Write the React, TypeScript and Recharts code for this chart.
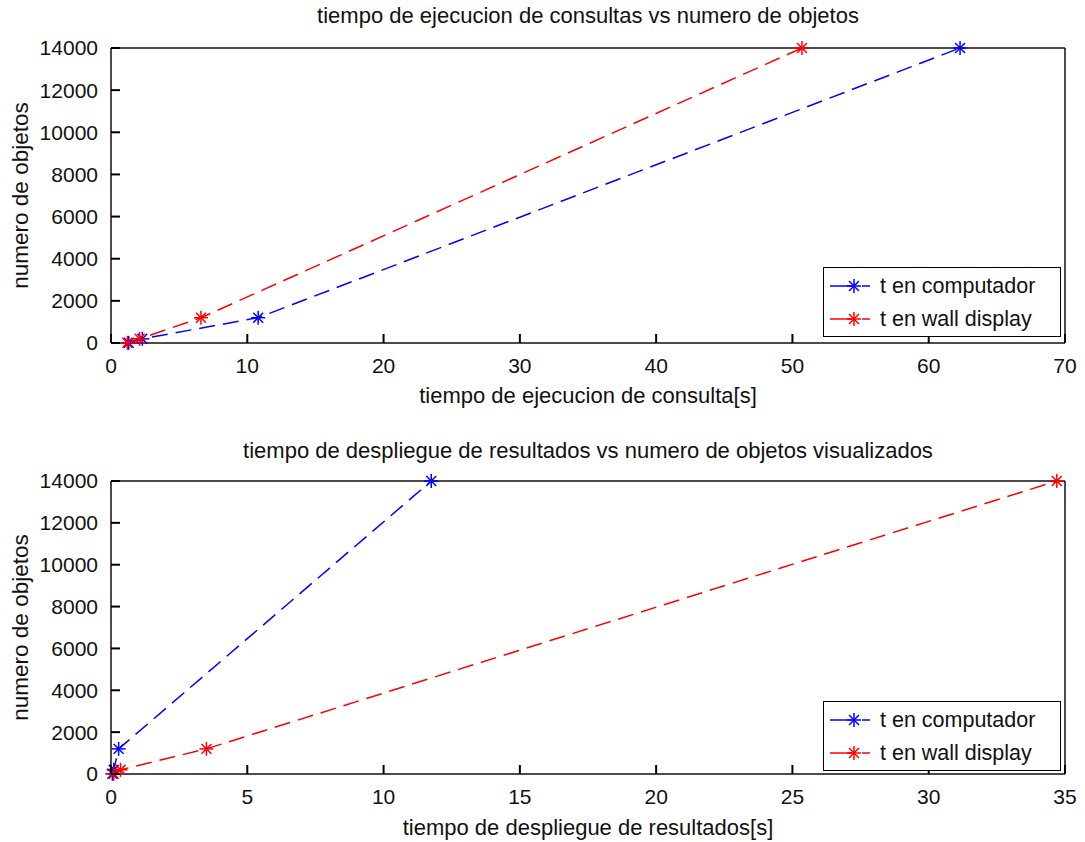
import { LineChart, Line, XAxis, YAxis } from 'recharts';

// numero de objetos (same counts in both experiments)
const objetos = [10, 200, 1200, 14000];

// tiempo de ejecucion de consulta [s]
const ejecucionComputador = [1.3, 2.3, 10.8, 62.3];
const ejecucionWall = [1.2, 2.1, 6.6, 50.7];

// tiempo de despliegue de resultados [s]
const despliegueComputador = [0.05, 0.1, 0.28, 11.75];
const despliegueWall = [0.1, 0.35, 3.5, 34.7];

const yTicks = [0, 2000, 4000, 6000, 8000, 10000, 12000, 14000];
const xTicksEjecucion = [0, 10, 20, 30, 40, 50, 60, 70];
const xTicksDespliegue = [0, 5, 10, 15, 20, 25, 30, 35];

const BLUE = '#0000ff';
const RED = '#ff0000';
const INK = '#111';
const TICK_INK = '#000';
const FONT = '"Liberation Sans", Arial, sans-serif';
const TICK_LEN = 9;
const X_GAP = 15;
const Y_GAP = 13;

const toPoints = (times: number[]) => times.map((t, i) => ({ t, n: objetos[i] }));

const Star = (props: any) => {
  const { cx, cy, stroke } = props;
  if (cx == null || cy == null) return null;
  const r = 7;
  const d = r * 0.7071;
  return (
    <g stroke={stroke} strokeWidth={1.5}>
      <line x1={cx - r} y1={cy} x2={cx + r} y2={cy} />
      <line x1={cx} y1={cy - r} x2={cx} y2={cy + r} />
      <line x1={cx - d} y1={cy - d} x2={cx + d} y2={cy + d} />
      <line x1={cx - d} y1={cy + d} x2={cx + d} y2={cy - d} />
    </g>
  );
};

const renderStar = (props: any) => <Star key={`s-${props.index}`} {...props} />;

// tick renderers: label plus a matlab-style inward tick mark
const BottomTick = ({ x, y, payload }: any) => (
  <g>
    <line x1={x} y1={y - X_GAP} x2={x} y2={y - X_GAP - TICK_LEN} stroke={TICK_INK} strokeWidth={2} />
    <text x={x} y={y} dy="0.71em" textAnchor="middle" fill={INK} fontSize={21} fontFamily={FONT}>
      {payload.value}
    </text>
  </g>
);

const LeftTick = ({ x, y, payload }: any) => (
  <g>
    <line x1={x + Y_GAP} y1={y} x2={x + Y_GAP + TICK_LEN} y2={y} stroke={TICK_INK} strokeWidth={2} />
    <text x={x} y={y} dy="0.355em" textAnchor="end" fill={INK} fontSize={21} fontFamily={FONT}>
      {payload.value}
    </text>
  </g>
);

const TopTick = ({ x, y }: any) => <line x1={x} y1={y} x2={x} y2={y + TICK_LEN} stroke={TICK_INK} strokeWidth={2} />;
const RightTick = ({ x, y }: any) => <line x1={x} y1={y} x2={x - TICK_LEN} y2={y} stroke={TICK_INK} strokeWidth={2} />;

const LegendBox = ({ top }: { top: number }) => (
  <div
    style={{
      position: 'absolute',
      left: 823,
      top,
      width: 236,
      height: 68,
      border: '1.5px solid #000',
      background: '#fff',
      fontFamily: FONT,
      fontSize: 21.5,
      color: INK,
    }}
  >
    {[
      { label: 't en computador', color: BLUE },
      { label: 't en wall display', color: RED },
    ].map((item, i) => (
      <div key={item.label} style={{ position: 'absolute', left: 6, top: 4 + i * 33, height: 28, display: 'flex', alignItems: 'center' }}>
        <svg width={48} height={20}>
          <line x1={0} y1={10} x2={22} y2={10} stroke={item.color} strokeWidth={1.5} />
          <line x1={32} y1={10} x2={40} y2={10} stroke={item.color} strokeWidth={1.5} />
          <Star cx={24} cy={10} stroke={item.color} />
        </svg>
        <span style={{ marginLeft: 2 }}>{item.label}</span>
      </div>
    ))}
  </div>
);

const Title = ({ text, top }: { text: string; top: number }) => (
  <div style={{ position: 'absolute', left: 111, width: 954, top, textAlign: 'center', fontFamily: FONT, fontSize: 22, color: INK }}>
    {text}
  </div>
);

interface PanelProps {
  top: number;
  height: number;
  marginTop: number;
  xHeight: number;
  xTicks: number[];
  xLabel: string;
  xLabelOffset: number;
  computador: number[];
  wall: number[];
}

const Panel = ({ top, height, marginTop, xHeight, xTicks, xLabel, xLabelOffset, computador, wall }: PanelProps) => {
  const xDomain = [xTicks[0], xTicks[xTicks.length - 1]];
  return (
    <div style={{ position: 'absolute', left: 0, top }}>
      <LineChart width={1085} height={height} margin={{ top: marginTop - 1, right: 19, left: 0, bottom: 0 }}>
        <XAxis
          xAxisId="bottom"
          orientation="bottom"
          dataKey="t"
          type="number"
          domain={xDomain}
          ticks={xTicks}
          interval={0}
          stroke={INK}
          strokeWidth={1.5}
          height={xHeight}
          tick={<BottomTick />}
          tickLine={false}
          tickSize={0}
          tickMargin={X_GAP}
          label={{ value: xLabel, position: 'insideBottom', offset: xLabelOffset, fill: INK, fontSize: 22, fontFamily: FONT }}
        />
        <YAxis
          yAxisId="left"
          dataKey="n"
          type="number"
          domain={[0, 14000]}
          ticks={yTicks}
          interval={0}
          stroke={INK}
          strokeWidth={1.5}
          width={111}
          tick={<LeftTick />}
          tickLine={false}
          tickSize={0}
          tickMargin={Y_GAP}
          label={{ value: 'numero de objetos', angle: -90, position: 'insideLeft', offset: 20, fill: INK, fontSize: 22.5, fontFamily: FONT, style: { textAnchor: 'middle' } }}
        />
        <XAxis
          xAxisId="top"
          orientation="top"
          type="number"
          domain={xDomain}
          ticks={xTicks}
          interval={0}
          height={1}
          tick={<TopTick />}
          tickLine={false}
          tickSize={0}
          tickMargin={0}
          stroke={INK}
          strokeWidth={1.5}
        />
        <YAxis
          yAxisId="right"
          orientation="right"
          type="number"
          domain={[0, 14000]}
          ticks={yTicks}
          interval={0}
          width={1}
          tick={<RightTick />}
          tickLine={false}
          tickSize={0}
          tickMargin={0}
          stroke={INK}
          strokeWidth={1.5}
        />

        <Line
          xAxisId="bottom"
          yAxisId="left"
          data={toPoints(computador)}
          dataKey="n"
          type="linear"
          stroke={BLUE}
          strokeWidth={1.5}
          strokeDasharray="16 8"
          dot={renderStar}
          activeDot={false}
          isAnimationActive={false}
        />
        <Line
          xAxisId="bottom"
          yAxisId="left"
          data={toPoints(wall)}
          dataKey="n"
          type="linear"
          stroke={RED}
          strokeWidth={1.5}
          strokeDasharray="16 8"
          dot={renderStar}
          activeDot={false}
          isAnimationActive={false}
        />
      </LineChart>
    </div>
  );
};

export default function App() {
  return (
    <div style={{ position: 'absolute', left: 0, top: 0, width: 1085, height: 842, background: '#fff', fontFamily: FONT }}>
      <Panel
        top={0}
        height={420}
        marginTop={48}
        xHeight={77}
        xTicks={xTicksEjecucion}
        xLabel="tiempo de ejecucion de consulta[s]"
        xLabelOffset={17}
        computador={ejecucionComputador}
        wall={ejecucionWall}
      />
      <Panel
        top={430}
        height={412}
        marginTop={51}
        xHeight={68}
        xTicks={xTicksDespliegue}
        xLabel="tiempo de despliegue de resultados[s]"
        xLabelOffset={7}
        computador={despliegueComputador}
        wall={despliegueWall}
      />
      <Title text="tiempo de ejecucion de consultas vs numero de objetos" top={3} />
      <Title text="tiempo de despliegue de resultados vs numero de objetos visualizados" top={438} />
      <LegendBox top={267} />
      <LegendBox top={701} />
    </div>
  );
}
